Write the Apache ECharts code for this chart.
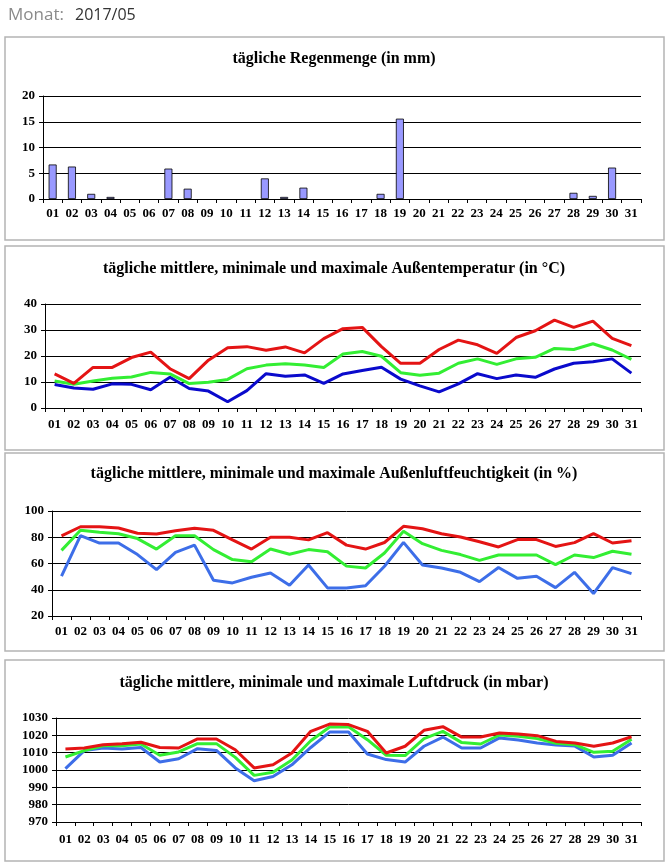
<!DOCTYPE html>
<html>
<head>
<meta charset="utf-8">
<script src="https://cdn.jsdelivr.net/npm/echarts@6/dist/echarts.min.js"></script>
<style>
html,body{margin:0;padding:0;background:#fff;}
#chart{width:668px;height:868px;}
</style>
</head>
<body>
<div id="chart"></div>
<script>
var monthLabel = '2017/05';
var days = ['01','02','03','04','05','06','07','08','09','10','11','12','13','14','15','16','17','18','19','20','21','22','23','24','25','26','27','28','29','30','31'];

var rain = [6.7,6.3,1.0,0.4,0,0,5.9,2.0,0,0,0,4.0,0.4,2.2,0,0,0,1.0,15.6,0,0,0,0,0,0,0,0,1.2,0.6,6.1,0];

var tempMax  = [13.1,9.5,15.6,15.6,19.4,21.5,15.1,11.3,18.4,23.2,23.6,22.2,23.5,21.2,26.7,30.5,31.0,23.6,17.2,17.2,22.5,26.1,24.3,21.0,27.1,29.7,33.8,31.0,33.4,26.8,24.0];
var tempMean = [10.4,9.1,10.4,11.4,11.9,13.7,13.1,9.4,9.9,11.0,15.1,16.5,17.0,16.5,15.6,20.8,21.7,19.9,13.6,12.6,13.4,17.2,18.9,16.8,18.9,19.5,22.9,22.5,24.7,22.3,18.7];
var tempMin  = [9.0,7.7,7.2,9.3,9.1,7.0,11.8,7.5,6.5,2.4,6.7,13.2,12.2,12.7,9.5,13.1,14.4,15.7,11.1,8.5,6.2,9.3,13.2,11.3,12.7,11.8,15.0,17.2,17.8,18.9,13.4];

var humMax  = [81,88,88,87,83,82.5,85,86.8,85.3,78,71,80,80,78,83.5,74,71,76,88.3,86.5,82.7,80.2,76.6,72.6,78.2,78.2,73,75.9,82.7,75.6,77.4];
var humMean = [70,85.3,83.8,82.7,79,71,81.2,81.2,70.6,63,61.4,71,67,70.6,69,58,56.6,68,84.5,75.1,70,66.8,62.4,66.5,66.5,66.5,59.1,66.5,64.5,69.3,67];
var humMin  = [50.3,81.2,75.6,75.6,66.8,55.3,68.5,74,47.2,45.2,49.5,52.8,43.4,58.9,41.4,41.4,43,57.9,76.1,58.9,56.6,53.3,46.2,56.9,48.7,50.3,41.6,53.3,37.1,56.9,52.3];

var presMax  = [1012.1,1012.7,1014.6,1015.2,1016,1013,1012.7,1017.9,1017.9,1011.7,1001.2,1003,1009.8,1022.3,1026.5,1026.2,1022.3,1009.8,1013.7,1022.9,1025,1019,1019,1021.3,1020.8,1019.8,1016.5,1015.6,1013.7,1015.6,1019.2];
var presMean = [1007.5,1011.2,1014,1014,1015,1008.5,1010.4,1015.2,1015.2,1007.3,996.9,998.7,1005.8,1016.9,1024.8,1025,1017.5,1008.5,1008.3,1018.1,1022.3,1015.8,1015,1020.2,1019.4,1018.1,1015.4,1014.6,1010.2,1010.8,1017.7];
var presMin  = [1000.8,1011.2,1012.7,1012.1,1013,1004.6,1006.5,1012.3,1011.3,1001.2,993.8,996.3,1003,1013,1021.9,1021.9,1009.2,1006,1004.6,1013.7,1019,1012.7,1012.7,1018.5,1017.3,1015.6,1014.4,1013.8,1007.5,1008.5,1015.6];

var titles = [
  'tägliche Regenmenge (in mm)',
  'tägliche mittlere, minimale und maximale Außentemperatur (in °C)',
  'tägliche mittlere, minimale und maximale Außenluftfeuchtigkeit (in %)',
  'tägliche mittlere, minimale und maximale Luftdruck (in mbar)'
];

var FONT = 'Liberation Serif';
var RED = '#e41414', GREEN = '#33ee33', BLUE_T = '#0a0acc', BLUE_H = '#3d6ee8';

var chart = echarts.init(document.getElementById('chart'), null, {renderer: 'canvas'});

var panels = [
  {top: 37, h: 203},
  {top: 246, h: 204},
  {top: 453, h: 198},
  {top: 660, h: 201}
];
var titleY = [46, 256, 461, 670];

var grids = [
  {left: 43, right: 27, top: 96, height: 103},
  {left: 45, right: 27, top: 304, height: 104},
  {left: 52, right: 27, top: 511, height: 105},
  {left: 56, right: 27, top: 718, height: 104}
];
var xMargin = [8, 10, 9, 11];
var yCfg = [
  {min: 0, max: 20, interval: 5},
  {min: 0, max: 40, interval: 10},
  {min: 20, max: 100, interval: 20},
  {min: 970, max: 1030, interval: 10}
];

function xAxis(i){
  return {
    type: 'category', gridIndex: i, data: days, boundaryGap: true,
    axisLine: {lineStyle: {color: '#000', width: 1}},
    axisTick: {show: true, length: 4, lineStyle: {color: '#000'}},
    axisLabel: {color: '#000', fontFamily: FONT, fontWeight: 'bold', fontSize: 13, margin: xMargin[i], interval: 0}
  };
}
function yAxis(i){
  return {
    type: 'value', gridIndex: i, min: yCfg[i].min, max: yCfg[i].max, interval: yCfg[i].interval,
    axisLine: {show: true, lineStyle: {color: '#000', width: 1}},
    axisTick: {show: true, length: 4, lineStyle: {color: '#000'}},
    axisLabel: {color: '#000', fontFamily: FONT, fontWeight: 'bold', fontSize: 13, margin: 8,
      formatter: function(v){ return String(v); }},
    splitLine: {show: true, lineStyle: {color: '#000', width: 1}}
  };
}
function line(i, data, color){
  return {
    type: 'line', xAxisIndex: i, yAxisIndex: i, data: data,
    symbol: 'none', lineStyle: {color: color, width: 3}, itemStyle: {color: color},
    silent: true, animation: false
  };
}

var graphics = [
  {type: 'text', left: 8, top: 7, style: {text: 'Monat:', fill: '#8a8a8a', font: '17px "Open Sans"'}},
  {type: 'text', left: 75, top: 7, style: {text: monthLabel, fill: '#333', font: '16px "Open Sans"'}}
];
panels.forEach(function(p){
  graphics.push({type: 'rect', shape: {x: 5, y: p.top, width: 659, height: p.h},
    style: {fill: 'none', stroke: '#b4b4b4', lineWidth: 1.5}, silent: true});
});

var option = {
  animation: false,
  backgroundColor: '#fff',
  graphic: graphics,
  title: titles.map(function(t, i){
    return {text: t, left: 'center', top: titleY[i],
      textStyle: {fontFamily: FONT, fontWeight: 'bold', fontSize: 16, color: '#000'}};
  }),
  grid: grids,
  xAxis: [xAxis(0), xAxis(1), xAxis(2), xAxis(3)],
  yAxis: [yAxis(0), yAxis(1), yAxis(2), yAxis(3)],
  series: [
    {type: 'bar', xAxisIndex: 0, yAxisIndex: 0,
      data: rain.map(function(v){ return v === 0 ? '-' : v; }), barWidth: 8,
      itemStyle: {color: '#9999ff', borderColor: '#000', borderWidth: 0.8}},
    line(1, tempMin, BLUE_T), line(1, tempMean, GREEN), line(1, tempMax, RED),
    line(2, humMin, BLUE_H), line(2, humMean, GREEN), line(2, humMax, RED),
    line(3, presMin, BLUE_H), line(3, presMean, GREEN), line(3, presMax, RED)
  ]
};
chart.setOption(option);
</script>
</body>
</html>
